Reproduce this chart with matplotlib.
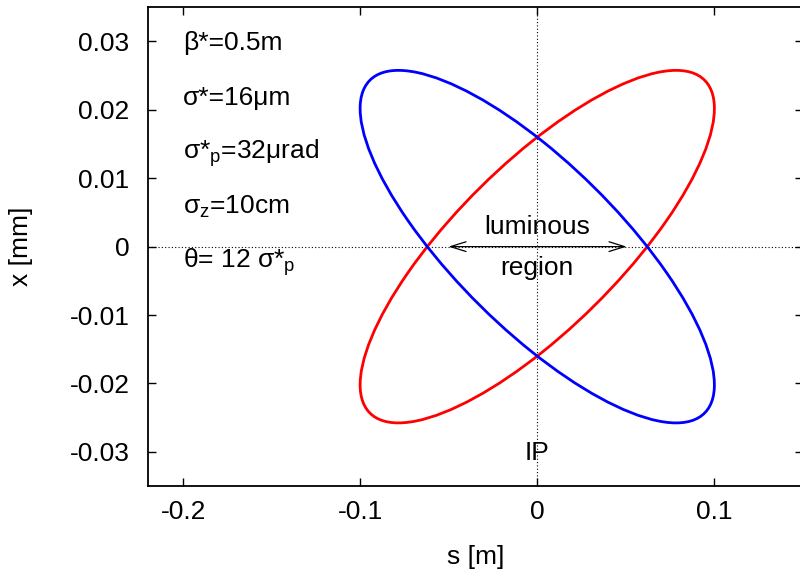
import matplotlib
matplotlib.use('Agg')
import matplotlib.pyplot as plt
from matplotlib.patches import Ellipse

plt.rcParams['font.family'] = ['Liberation Sans', 'DejaVu Sans']
plt.rcParams['mathtext.fontset'] = 'custom'
plt.rcParams['mathtext.rm'] = 'Liberation Sans'
plt.rcParams['mathtext.default'] = 'regular'

FS = 19

# beam envelopes: half length, half width (data units) and tilt in degrees
beam_names = ['beam 1', 'beam 2']
beam_colors = ['#ff0000', '#0000ff']
half_length = [0.1021, 0.1021]
half_width = [0.01568, 0.01568]
tilt_deg = [11.7, -11.7]

# parameter block in upper left
params = [r'β*=0.5m',
          r'σ*=16μm',
          r'σ*$_p$=32μrad',
          r'σ$_z$=10cm',
          r'θ= 12 σ*$_p$']
param_y = [0.0298, 0.0217, 0.0136, 0.0058, -0.0023]

# extent of the luminous region
lum_left, lum_right = -0.0502, 0.0505

xticks = [-0.2, -0.1, 0, 0.1]
yticks = [-0.03, -0.02, -0.01, 0, 0.01, 0.02, 0.03]

fig = plt.figure(figsize=(8.0, 5.69), dpi=100)
ax = fig.add_axes([0.1846, 0.1459, 0.819, 0.8413])

ax.set_xlim(-0.22, 0.15)
ax.set_ylim(-0.035, 0.035)

# coordinate axes through the origin
ax.axhline(0, color='black', lw=0.8, ls=(0, (1, 2)), zorder=1)
ax.axvline(0, color='black', lw=0.8, ls=(0, (1, 2)), zorder=1)

for name, c, a, b, t in zip(beam_names, beam_colors, half_length, half_width, tilt_deg):
	e = Ellipse((0, 0), width=2 * a, height=2 * b, angle=t, fill=False,
	            edgecolor=c, lw=2.0, label=name, zorder=3)
	ax.add_patch(e)

ax.annotate('', xy=(lum_left, 0), xytext=(lum_right, 0),
            arrowprops=dict(arrowstyle='<->,head_length=0.8,head_width=0.25',
                            color='black', lw=0.9, shrinkA=0, shrinkB=0, mutation_scale=14))
ax.text(0, 0.0029, 'luminous', ha='center', va='center', fontsize=FS)
ax.text(0, -0.0031, 'region', ha='center', va='center', fontsize=FS)
ax.text(0, -0.0302, 'IP', ha='center', va='center', fontsize=FS)

for txt, y in zip(params, param_y):
	ax.text(-0.2, y, txt, ha='left', va='center', fontsize=FS)

ax.set_xticks(xticks)
ax.set_xticklabels(['-0.2', '-0.1', '0', '0.1'])
ax.set_yticks(yticks)
ax.set_yticklabels(['-0.03', '-0.02', '-0.01', '0', '0.01', '0.02', '0.03'])
ax.tick_params(direction='in', length=6, width=1.0, top=True, right=True,
               labelsize=FS, pad=10)
ax.tick_params(axis='y', pad=13)
for s in ax.spines.values():
	s.set_linewidth(1.3)

ax.set_xlabel('s [m]', fontsize=FS, va='center')
ax.set_ylabel('x [mm]', fontsize=FS, va='center')
ax.xaxis.set_label_coords(0.5, -0.148)
ax.yaxis.set_label_coords(-0.193, 0.5)

fig.savefig('out.png', dpi=100)
